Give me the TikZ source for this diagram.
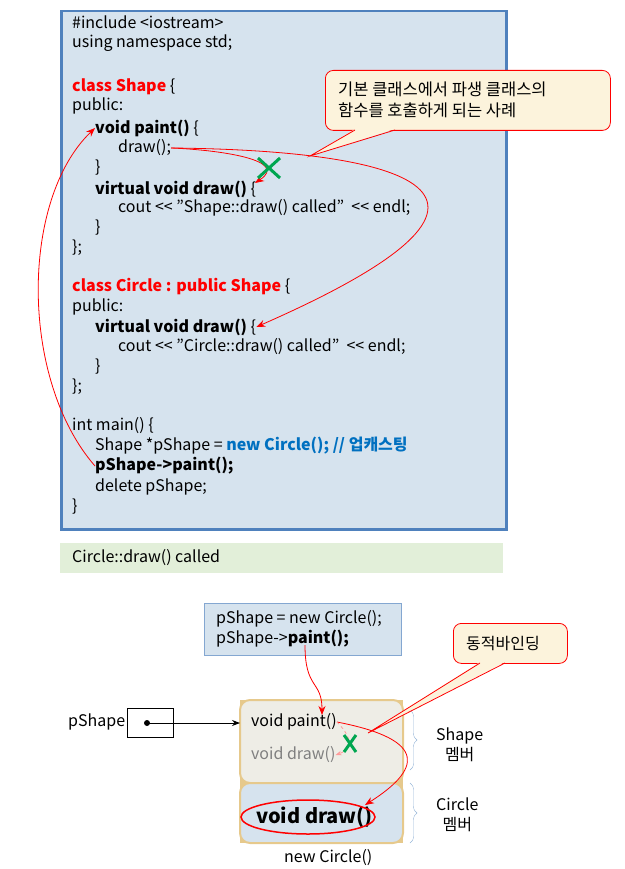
\documentclass[tikz,border=0pt]{standalone}
\usepackage{fontspec}
\setmainfont{Noto Sans CJK KR}
\usetikzlibrary{arrows.meta,shapes,positioning,calc,decorations.pathreplacing}
\definecolor{codeblue}{RGB}{214,227,238}
\definecolor{frameblue}{RGB}{79,129,189}
\definecolor{notecream}{RGB}{252,243,220}
\definecolor{outgreen}{RGB}{226,239,217}
\definecolor{objtan}{RGB}{230,201,140}
\definecolor{objgray}{RGB}{238,237,230}
\definecolor{kwblue}{RGB}{0,112,192}
\definecolor{xgreen}{RGB}{0,166,80}
\newcommand{\shl}{{<}{<}}
\begin{document}
\begin{tikzpicture}[x=1pt,y=-1pt,
    code/.style={anchor=west, inner sep=0pt, font=\fontsize{16}{20}\selectfont},
    note/.style={draw=red, fill=notecream, rounded corners=8pt, thick},
    arrow/.style={-{Stealth[length=9pt,width=7pt]}, red, thick},
    cross/.style={xgreen, line width=3pt}
]
    \useasboundingbox (0,0) rectangle (624,869);
    % code listing
    \node[draw=frameblue, line width=2.5pt, fill=codeblue, minimum width=445pt, minimum height=518pt, anchor=north west] (listing) at (60,10) {};
    \foreach \y/\x/\t in {22/72/{\#include <iostream>}, 43/72/{using namespace std;},
        106/72/{public:}, 168/95/{\}}, 208/118/{cout \shl\ "Shape::draw() called"\ \ \shl\ endl;},
        228/95/{\}}, 248/72/{\};}, 307/72/{public:}, 347/118/{cout \shl\ "Circle::draw() called"\ \ \shl\ endl;},
        367/95/{\}}, 387/72/{\};}, 426/72/{int main() \{}, 487/95/{delete pShape;}, 507/72/{\}}}
        \node[code] at (\x,\y) {\t};
    \node[code] (shape) at (72,87) {\textcolor{red}{\textbf{class Shape}} \{};
    \node[code] (paint) at (95,128) {\textbf{void paint()} \{};
    \node[code] (draw) at (118,148) {draw();};
    \node[code] (vdraw) at (95,189) {\textbf{virtual void draw()} \{};
    \node[code] (circle) at (72,287) {\textcolor{red}{\textbf{class Circle : public Shape}} \{};
    \node[code] (cdraw) at (95,327) {\textbf{virtual void draw()} \{};
    \node[code] (upcast) at (95,446) {Shape *pShape = \textcolor{kwblue}{\textbf{new Circle(); // 업캐스팅}}};
    \node[code] (call) at (95,466) {\textbf{pShape->paint();}};
    % note 1
    \node[note, minimum width=285pt, minimum height=60pt, anchor=north west] (note1) at (325,70) {};
    \node[code, align=left, font=\fontsize{16.5}{21}\selectfont] at (338,100) {기본\ 클래스에서\ 파생\ 클래스의\\함수를\ 호출하게\ 되는\ 사례};
    \coordinate (tip1) at (310,156);
    \fill[notecream] (355,129) -- (tip1) -- (395,129) -- cycle;
    \draw[red, thick] (355,130) -- (tip1) -- (395,130);
    % call arrows
    \coordinate (vtip) at (255,183);
    \draw[arrow] (call.west) .. controls (20,380) and (20,200) .. (paint.west);
    \draw[arrow] (draw.east) .. controls (220,150) and (290,160) .. (vtip);
    \draw[cross] (258,158) -- (280,178) (258,178) -- (280,158);
    \draw[arrow] (draw.east) .. controls (380,150) and (580,185) .. (cdraw.east);
    % output
    \node[fill=outgreen, minimum width=443pt, minimum height=30pt, anchor=north west] (output) at (60,543) {};
    \node[code] at (72,558) {Circle::draw() called};
    % bottom diagram
    \node[draw=frameblue!70, fill=codeblue, minimum width=197pt, minimum height=52pt, anchor=north west] (snip) at (204,603) {};
    \node[code, align=left] at (216,629) {pShape = new Circle();\\pShape->\textbf{paint();}};
    \node[code] (plabel) at (68,722) {pShape};
    \node[draw, minimum width=46pt, minimum height=29pt] (pbox) at (150,723) {};
    \fill (147,723) circle (3pt) coordinate (dot);
    \fill[objtan] (240,700) rectangle (403,843);
    \draw[objtan, line width=2pt, fill=objgray, rounded corners=10pt] (240,783) -- (240,700) -- (403,700) -- (403,783) -- cycle;
    \draw[objtan, line width=2pt, fill=codeblue, rounded corners=10pt] (240,783) -- (240,843) -- (403,843) -- (403,783) -- cycle;
    \draw[objtan, line width=2pt] (240,783) -- (403,783);
    \node[code] (opaint) at (251,722) {void paint()};
    \node[code, gray] (odraw) at (251,755) {void draw()};
    \node[code, font=\fontsize{20}{24}\selectfont\bfseries] (ocdraw) at (256,817) {void draw()};
    \node[draw=red, ellipse, line width=1.5pt, minimum width=134pt, minimum height=34pt] at (308,817) {};
    \node[code] (newc) at (284,858) {new Circle()};
    \draw[-{Stealth[length=8pt]}, thick] (dot) -- (240,723);
    \draw[decorate, decoration={brace, amplitude=7pt}, frameblue!60] (410,710) -- (410,770);
    \draw[decorate, decoration={brace, amplitude=7pt}, frameblue!60] (410,783) -- (410,843);
    \node[code, align=center] at (436,745) {Shape\\멤버};
    \node[code, align=center] at (436,815) {Circle\\멤버};
    \node[note, minimum width=114pt, minimum height=40pt, anchor=north west] (note2) at (453,623) {};
    \node[code] at (466,643) {동적바인딩};
    \coordinate (tip2) at (368,733);
    \fill[notecream] (480,662) -- (tip2) -- (505,662) -- cycle;
    \draw[red, thick] (480,663) -- (tip2) -- (505,663);
    \draw[arrow] (305,645) .. controls (305,690) and (322,680) .. (322,715);
    \draw[arrow] (opaint.east) .. controls (430,740) and (420,770) .. (365,805);
    \draw[-{Stealth[length=6pt]}, red!40, dashed, thick] (opaint.east) .. controls (355,740) and (350,750) .. (odraw.east);
    \draw[cross] (344,735) -- (356,752) (344,752) -- (356,735);
\end{tikzpicture}
\end{document}
